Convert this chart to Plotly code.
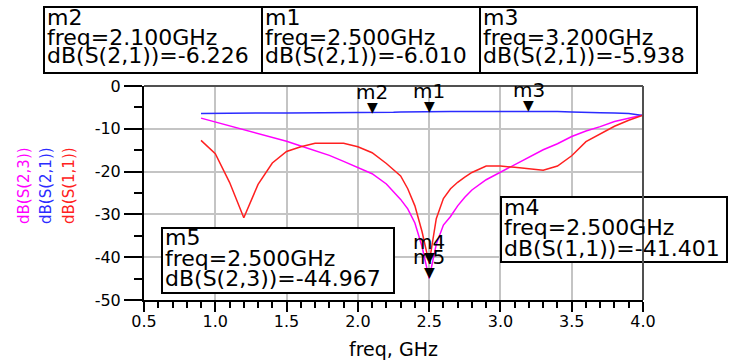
import plotly.graph_objects as go

# ---------------- data ----------------
freq = [0.9, 1.0, 1.1, 1.2, 1.3, 1.4, 1.5, 1.6, 1.7, 1.8, 1.9, 2.0, 2.1,
        2.2, 2.25, 2.3, 2.35, 2.4, 2.45, 2.5, 2.55, 2.6, 2.65, 2.7, 2.75, 2.8,
        2.9, 3.0, 3.1, 3.2, 3.3, 3.4, 3.5, 3.6, 3.7, 3.8, 3.9, 4.0]
s11_db = [-12.7, -15.8, -22.5, -30.8, -23.0, -18.0, -15.3, -14.2, -13.4, -13.4, -13.4, -14.2, -15.6,
          -18.1, -19.6, -21.0, -24.0, -28.0, -34.0, -41.401, -31.0, -26.3, -24.0, -22.5, -21.3, -20.2,
          -18.7, -18.7, -19.0, -19.4, -19.7, -18.7, -16.3, -13.0, -11.2, -9.4, -8.0, -6.8]
s23_db = [-7.5, -8.4, -9.3, -10.2, -11.2, -12.1, -12.9, -14.0, -15.1, -16.2, -17.6, -19.0, -20.5,
          -22.9, -24.6, -26.5, -28.7, -32.0, -37.5, -44.967, -37.0, -32.5, -30.5, -28.0, -26.0, -24.3,
          -21.9, -20.1, -18.4, -16.5, -14.9, -13.5, -11.8, -10.5, -9.5, -8.3, -7.5, -6.8]
s21_db = [-6.4, -6.35, -6.3, -6.3, -6.3, -6.3, -6.3, -6.3, -6.3, -6.3, -6.28, -6.26, -6.226,
          -6.2, -6.15, -6.1, -6.06, -6.03, -6.02, -6.010, -6.0, -5.98, -5.97, -5.96, -5.95, -5.95,
          -5.94, -5.94, -5.94, -5.938, -5.94, -5.97, -6.05, -6.2, -6.25, -6.3, -6.45, -6.9]

marker_names = ["m1", "m2", "m3", "m4", "m5"]
marker_freq = [2.5, 2.1, 3.2, 2.5, 2.5]
marker_val = [-6.010, -6.226, -5.938, -41.401, -44.967]
marker_expr = ["dB(S(2,1))", "dB(S(2,1))", "dB(S(2,1))", "dB(S(1,1))", "dB(S(2,3))"]

x_ticks = [0.5, 1.0, 1.5, 2.0, 2.5, 3.0, 3.5, 4.0]
x_ticklabels = ["0.5", "1.0", "1.5", "2.0", "2.5", "3.0", "3.5", "4.0"]
y_ticks = [0, -10, -20, -30, -40, -50]
y_ticklabels = ["0", "-10", "-20", "-30", "-40", "-50"]

FONT = "DejaVu Sans"

# plot area in pixels
W_PX, H_PX = 729, 364
L, R, T, B = 144, 643, 86, 300


def xp(px):
    return (px - L) / (R - L)


def yp(py):
    return (B - py) / (B - T)


fig = go.Figure()
fig.add_trace(go.Scatter(x=freq, y=s23_db, mode="lines", line=dict(color="#ff00ff", width=1.5),
                         name="dB(S(2,3))", showlegend=False))
fig.add_trace(go.Scatter(x=freq, y=s21_db, mode="lines", line=dict(color="#2b2bff", width=1.5),
                         name="dB(S(2,1))", showlegend=False))
fig.add_trace(go.Scatter(x=freq, y=s11_db, mode="lines", line=dict(color="#ff2020", width=1.5),
                         name="dB(S(1,1))", showlegend=False))

annotations = []
shapes = []

# marker triangles and labels on the curves
for name, f, v in zip(marker_names, marker_freq, marker_val):
    annotations.append(dict(x=f, y=v, xref="x", yref="y", text="▼", showarrow=False,
                            xanchor="center", yanchor="bottom", yshift=-4,
                            font=dict(family=FONT, size=14, color="black")))
    annotations.append(dict(x=f, y=v, xref="x", yref="y", text=name, showarrow=False,
                            xanchor="center", yanchor="middle", yshift=21,
                            font=dict(family=FONT, size=20, color="black")))

# readout boxes: (marker index, x0, y0, x1, y1, baselines) in pixels
boxes = [
    (1, 44, 7, 262, 73, [25, 45, 63]),
    (0, 262, 7, 480, 73, [25, 45, 63]),
    (2, 480, 7, 697, 73, [25, 45, 63]),
    (4, 162, 228, 394, 293, [245, 265.5, 285.5]),
    (3, 501, 197, 727, 262, [215, 235, 255.5]),
]
for idx, x0, y0, x1, y1, bl in boxes:
    shapes.append(dict(type="rect", xref="paper", yref="paper",
                       x0=xp(x0), x1=xp(x1), y0=yp(y1), y1=yp(y0),
                       line=dict(color="black", width=2), fillcolor="white", layer="above"))
    lines = [marker_names[idx],
             f"freq={marker_freq[idx]:.3f}GHz",
             f"{marker_expr[idx]}={marker_val[idx]:.3f}"]
    for txt, b in zip(lines, bl):
        annotations.append(dict(x=xp(x0 + 1), y=yp(b - 7.5), xref="paper", yref="paper",
                                text=txt, showarrow=False, xanchor="left", yanchor="middle",
                                font=dict(family=FONT, size=22, color="black")))

# rotated y labels
for txt, col, cx in [("dB(S(2,3))", "#ff00ff", 24), ("dB(S(2,1))", "#2b2bff", 46),
                     ("dB(S(1,1))", "#ff2020", 69)]:
    annotations.append(dict(x=xp(cx), y=yp(186), xref="paper", yref="paper", text=txt,
                            textangle=-90, showarrow=False, xanchor="center", yanchor="middle",
                            font=dict(family=FONT, size=15, color=col)))

# x axis title
annotations.append(dict(x=0.5, y=yp(349), xref="paper", yref="paper", text="freq, GHz",
                        showarrow=False, xanchor="center", yanchor="middle",
                        font=dict(family=FONT, size=19, color="black")))

# top and right frame lines
shapes.append(dict(type="line", xref="paper", yref="paper", x0=0, x1=1, y0=1, y1=1,
                   line=dict(color="#505050", width=2), layer="above"))
shapes.append(dict(type="line", xref="paper", yref="paper", x0=1, x1=1, y0=0, y1=1,
                   line=dict(color="#505050", width=2), layer="above"))

fig.update_layout(
    width=W_PX, height=H_PX,
    margin=dict(l=L, r=W_PX - R, t=T, b=H_PX - B, pad=0),
    paper_bgcolor="white", plot_bgcolor="white",
    showlegend=False,
    annotations=annotations,
    shapes=shapes,
    font=dict(family=FONT, color="black"),
)
fig.update_xaxes(range=[0.5, 4.0], tickmode="array", tickvals=x_ticks, ticktext=x_ticklabels,
                 ticks="outside", ticklen=10, tickwidth=2, tickcolor="black",
                 ticklabelstandoff=-4,
                 showline=True, linecolor="black", linewidth=2,
                 showgrid=True, gridcolor="#c4c4c4", gridwidth=1.5,
                 zeroline=False, tickfont=dict(family=FONT, size=16, color="black"),
                 minor=dict(dtick=0.1, ticks="outside", ticklen=6, tickwidth=1.5,
                            tickcolor="black", showgrid=False))
fig.update_yaxes(range=[-50, 0], tickmode="array", tickvals=y_ticks, ticktext=y_ticklabels,
                 ticks="outside", ticklen=18, tickwidth=2, tickcolor="black",
                 showline=True, linecolor="black", linewidth=2,
                 showgrid=True, gridcolor="#c4c4c4", gridwidth=1.5,
                 zeroline=False, tickfont=dict(family=FONT, size=16, color="black"),
                 minor=dict(dtick=5, ticks="outside", ticklen=8, tickwidth=1.5,
                            tickcolor="black", showgrid=False))

fig.write_html("out.html")
